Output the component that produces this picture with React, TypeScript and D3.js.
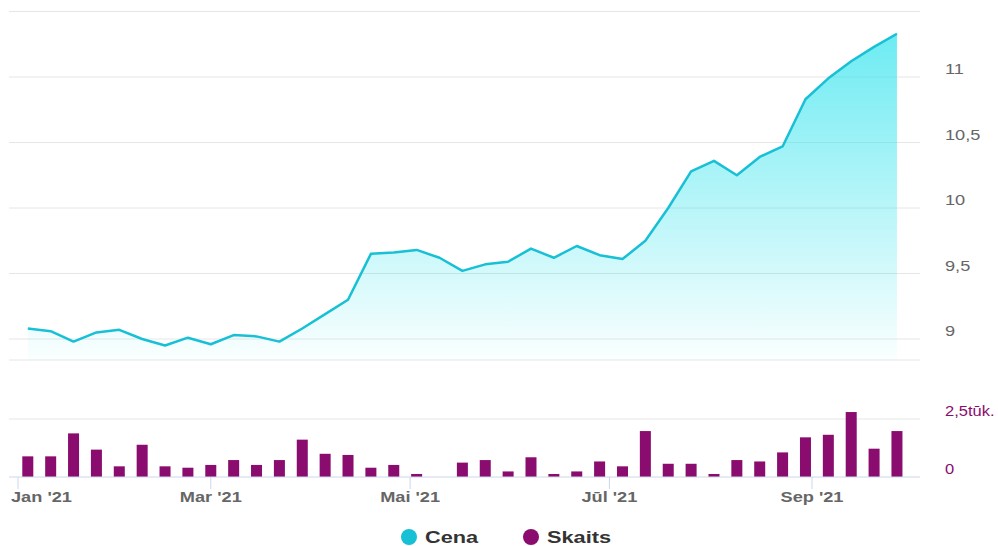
import React from "react";
import * as d3 from "d3";

const dates = [
  "2021-01-04", "2021-01-11", "2021-01-18", "2021-01-25",
  "2021-02-01", "2021-02-08", "2021-02-15", "2021-02-22",
  "2021-03-01", "2021-03-08", "2021-03-15", "2021-03-22", "2021-03-29",
  "2021-04-05", "2021-04-12", "2021-04-19", "2021-04-26",
  "2021-05-03", "2021-05-10", "2021-05-17", "2021-05-24", "2021-05-31",
  "2021-06-07", "2021-06-14", "2021-06-21", "2021-06-28",
  "2021-07-05", "2021-07-12", "2021-07-19", "2021-07-26",
  "2021-08-02", "2021-08-09", "2021-08-16", "2021-08-23", "2021-08-30",
  "2021-09-06", "2021-09-13", "2021-09-20", "2021-09-27",
];

const price = [
  9.08, 9.06, 8.98, 9.05,
  9.07, 9.0, 8.95, 9.01,
  8.96, 9.03, 9.02, 8.98, 9.08,
  9.19, 9.3, 9.65, 9.66,
  9.68, 9.62, 9.52, 9.57, 9.59,
  9.69, 9.62, 9.71, 9.64,
  9.61, 9.75, 10.0, 10.28,
  10.36, 10.25, 10.39, 10.47, 10.83,
  10.99, 11.12, 11.23, 11.33,
];

const volume = [
  890, 890, 1880, 1180,
  460, 1390, 460, 400,
  520, 730, 520, 730, 1610,
  1000, 950, 400, 520,
  130, 0, 620, 730, 240,
  850, 130, 240, 670,
  460, 1980, 570, 570,
  130, 730, 670, 1060, 1710,
  1820, 2800, 1220, 1980,
];

const monthTicks = ["2021-01-01", "2021-03-01", "2021-05-01", "2021-07-01", "2021-09-01"];
const monthLabels = ["Jan '21", "Mar '21", "Mai '21", "Jūl '21", "Sep '21"];
const priceTicks = [9, 9.5, 10, 10.5, 11];
const priceGridOnly = [11.5];
const volumeTicks = [0, 2500];
const seriesNames = ["Cena", "Skaits"];

const W = 998;
const H = 546;
const plotLeft = 9;
const plotRight = 920;
const priceBottom = 360;
const volBase = 477;
const labelX = 945;
const STRETCH = 1.3;

const CYAN = "#17c0d5";
const PURPLE = "#8a0c6e";
const GRID = "#e6e6e6";
const AXIS = "#ccd6eb";
const FONT = "'Liberation Sans', Arial, sans-serif";

const parse = d3.utcParse("%Y-%m-%d");

export default function App() {
  const pts = dates.map((d, i) => ({ date: parse(d) as Date, p: price[i], v: volume[i] }));

  const x = d3
    .scaleUtc()
    .domain([parse("2021-01-01") as Date, parse("2021-09-01") as Date])
    .range([18, 812]);

  const y = d3.scaleLinear().domain([9, 11]).range([339, 77]);
  const yv = d3.scaleLinear().domain([0, 2500]).range([volBase, 419]);

  const line = d3
    .line<any>()
    .x((d) => x(d.date))
    .y((d) => y(d.p));
  const area = d3
    .area<any>()
    .x((d) => x(d.date))
    .y0(priceBottom)
    .y1((d) => y(d.p));

  const fmtPrice = (v: number) => String(v).replace(".", ",");
  const fmtVol = (v: number) => (v === 0 ? "0" : String(v / 1000).replace(".", ",") + "tūk.");

  const barW = 11;
  const topY = y(d3.max(price) as number);

  return (
    <svg
      width={W}
      height={H}
      style={{ position: "absolute", left: 0, top: 0, background: "#fff" }}
      fontFamily={FONT}
    >
      <defs>
        <linearGradient id="areaGrad" gradientUnits="userSpaceOnUse" x1="0" y1={topY} x2="0" y2={priceBottom}>
          <stop offset="0" stopColor="rgb(40,226,236)" stopOpacity={0.68} />
          <stop offset="1" stopColor="rgb(40,226,236)" stopOpacity={0.02} />
        </linearGradient>
      </defs>

      {[...priceTicks, ...priceGridOnly].map((t) => (
        <line key={"g" + t} x1={plotLeft} x2={plotRight} y1={y(t)} y2={y(t)} stroke={GRID} strokeWidth={1} />
      ))}
      <line x1={plotLeft} x2={plotRight} y1={priceBottom} y2={priceBottom} stroke={GRID} strokeWidth={1} />

      {volumeTicks
        .filter((t) => t > 0)
        .map((t) => (
          <line key={"vg" + t} x1={plotLeft} x2={plotRight} y1={yv(t)} y2={yv(t)} stroke={GRID} strokeWidth={1} />
        ))}

      <path d={area(pts) as string} fill="url(#areaGrad)" />
      <path d={line(pts) as string} fill="none" stroke={CYAN} strokeWidth={2.5} strokeLinejoin="round" />

      {pts.map((d, i) => (
        <rect
          key={"b" + i}
          x={x(d.date) - barW / 2}
          y={yv(d.v)}
          width={barW}
          height={volBase - yv(d.v)}
          fill={PURPLE}
        />
      ))}

      <line x1={plotLeft} x2={plotRight} y1={volBase} y2={volBase} stroke={AXIS} strokeWidth={1} />
      {monthTicks.map((m, i) => {
        const xx = x(parse(m) as Date);
        const first = i === 0;
        return (
          <g key={"t" + m}>
            <line x1={xx} x2={xx} y1={volBase} y2={volBase + 12} stroke={AXIS} strokeWidth={1} />
            <text
              transform={`translate(${first ? plotLeft + 2 : xx},502) scale(${STRETCH},1)`}
              textAnchor={first ? "start" : "middle"}
              fontSize={14}
              fontWeight="bold"
              fill="#666"
            >
              {monthLabels[i]}
            </text>
          </g>
        );
      })}

      {priceTicks.map((t) => (
        <text
          key={"pl" + t}
          transform={`translate(${labelX},${y(t) - 3}) scale(${STRETCH},1)`}
          fontSize={14}
          fill="#666"
        >
          {fmtPrice(t)}
        </text>
      ))}

      {volumeTicks.map((t) => (
        <text
          key={"vl" + t}
          transform={`translate(${labelX},${yv(t) - 3}) scale(1.18,1)`}
          fontSize={14}
          fill={PURPLE}
        >
          {fmtVol(t)}
        </text>
      ))}

      {seriesNames.map((name, i) => {
        const cx = i === 0 ? 409 : 531;
        return (
          <g key={"lg" + name}>
            <circle cx={cx} cy={537} r={8} fill={i === 0 ? CYAN : PURPLE} />
            <text
              transform={`translate(${cx + 16},543) scale(1.36,1)`}
              fontSize={16}
              fontWeight="bold"
              fill="#333"
            >
              {name}
            </text>
          </g>
        );
      })}
    </svg>
  );
}
